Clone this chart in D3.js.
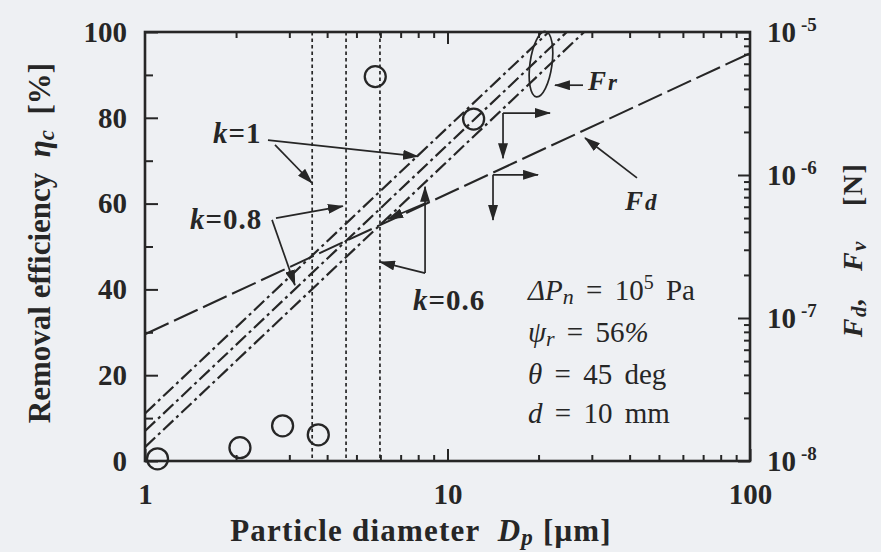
<!DOCTYPE html>
<html><head><meta charset="utf-8">
<script src="https://cdn.jsdelivr.net/npm/d3@7"></script>
<style>
html,body{margin:0;padding:0;background:#eef0f3;}
svg{display:block;}
text{font-family:"Liberation Serif","Times New Roman",serif;fill:#262626;white-space:pre;}
</style></head><body>
<svg id="chart" width="881" height="552"></svg>
<script>
// Measured removal efficiency (%) against particle diameter (µm)
const diameters  = [1.10, 2.06, 2.85, 3.74, 5.77, 12.2];
const efficiency = [0.5, 3.1, 8.2, 6.1, 89.6, 79.7];

// Critical diameters where Fd and Fr cross, one per k
const criticalK  = [1, 0.8, 0.6];
const criticalDp = [3.57, 4.62, 5.98];

// Drag force Fd (N), straight on the log-log scale
const dragDp = [1, 100];
const dragF  = [7.7e-8, 7.1e-6];

// Adhesion force Fr (N) for each k
const frK  = [1, 0.8, 0.6];
const frDp = [[1, 21.6], [1, 24.8], [1, 28.3]];
const frF  = [[2.15e-8, 1e-5], [1.62e-8, 1e-5], [1.25e-8, 1e-5]];

// Tick values and labels
const xTicks = [1, 10, 100];
const xMinor = [2,3,4,5,6,7,8,9,20,30,40,50,60,70,80,90];
const yTicks = [0, 20, 40, 60, 80, 100];
const yMinor = [10, 30, 50, 70, 90];
const fTicks = [1e-8, 1e-7, 1e-6, 1e-5];
const fTickExp = ["-8", "-7", "-6", "-5"];
const fMinor = [2,3,4,5,6,7,8,9].flatMap(m => [m*1e-8, m*1e-7, m*1e-6]);

const ink = "#262626";
const svg = d3.select("#chart");
const L = 145, R = 750, T = 32, B = 461;

const x = d3.scaleLog().domain([1, 100]).range([L, R]);
const y = d3.scaleLinear().domain([0, 100]).range([B, T]);
const f = d3.scaleLog().domain([1e-8, 1e-5]).range([B, T]);

const defs = svg.append("defs");
defs.append("marker").attr("id", "ah").attr("viewBox", "0 0 16 10")
  .attr("refX", 15).attr("refY", 5).attr("markerWidth", 16).attr("markerHeight", 10)
  .attr("markerUnits", "userSpaceOnUse").attr("orient", "auto")
  .append("path").attr("d", "M0,0 L16,5 L0,10 Z").attr("fill", ink);

function styleAxis(g) {
  g.select(".domain").remove();
  g.selectAll(".tick line").attr("stroke", ink).attr("stroke-width", 2);
  g.selectAll(".tick text").attr("fill", ink)
    .style("font-family", '"Liberation Serif", serif').style("font-size", "29px").style("font-weight", "bold");
}

// Bottom axis
svg.append("g").attr("transform", `translate(0,${B})`)
  .call(d3.axisBottom(x).tickValues(xMinor).tickSize(-6).tickFormat("")).call(styleAxis);
svg.append("g").attr("transform", `translate(0,${B})`)
  .call(d3.axisBottom(x).tickValues(xTicks).tickSize(-12).tickPadding(22).tickFormat(d3.format("d"))).call(styleAxis);
// Top axis
svg.append("g").attr("transform", `translate(0,${T})`)
  .call(d3.axisTop(x).tickValues(xMinor).tickSize(-6).tickFormat("")).call(styleAxis);
svg.append("g").attr("transform", `translate(0,${T})`)
  .call(d3.axisTop(x).tickValues([10]).tickSize(-12).tickFormat("")).call(styleAxis);
// Left axis
svg.append("g").attr("transform", `translate(${L},0)`)
  .call(d3.axisLeft(y).tickValues(yMinor).tickSize(-8).tickFormat("")).call(styleAxis);
svg.append("g").attr("transform", `translate(${L},0)`)
  .call(d3.axisLeft(y).tickValues(yTicks).tickSize(-13).tickPadding(18).tickFormat(d3.format("d"))).call(styleAxis);
// Right axis (force)
svg.append("g").attr("transform", `translate(${R},0)`)
  .call(d3.axisRight(f).tickValues(fMinor).tickSize(-6).tickFormat("")).call(styleAxis);
const fAxis = svg.append("g").attr("transform", `translate(${R},0)`)
  .call(d3.axisRight(f).tickValues(fTicks).tickSize(-12).tickPadding(17).tickFormat(() => "")).call(styleAxis);
fAxis.selectAll(".tick text").each(function(d, i) {
  const t = d3.select(this);
  t.append("tspan").text("10");
  t.append("tspan").attr("dx", 5).attr("dy", -11).style("font-size", "19px").text(fTickExp[i]);
});

// Frame
svg.append("rect").attr("x", L).attr("y", T).attr("width", R - L).attr("height", B - T)
  .attr("fill", "none").attr("stroke", ink).attr("stroke-width", 2.6);

// Critical diameters
svg.append("g").selectAll("line").data(criticalDp).join("line")
  .attr("x1", d => x(d)).attr("x2", d => x(d)).attr("y1", y(100)).attr("y2", y(0))
  .attr("stroke", ink).attr("stroke-width", 1.7).attr("stroke-dasharray", "3.5,3");

const line = d3.line().x(d => x(d[0])).y(d => f(d[1]));

// Drag force
svg.append("path").datum(d3.zip(dragDp, dragF)).attr("d", line)
  .attr("fill", "none").attr("stroke", ink).attr("stroke-width", 2.1).attr("stroke-dasharray", "26,6");

// Adhesion force lines
svg.append("g").selectAll("path").data(frK).join("path")
  .attr("d", (k, i) => line(d3.zip(frDp[i], frF[i])))
  .attr("fill", "none").attr("stroke", ink).attr("stroke-width", 2.2).attr("stroke-dasharray", "14,4,3,4");

// Measured points
svg.append("g").selectAll("circle").data(diameters).join("circle")
  .attr("cx", d => x(d)).attr("cy", (d, i) => y(efficiency[i])).attr("r", 10.5)
  .attr("fill", "none").attr("stroke", ink).attr("stroke-width", 2.3);

// Annotation arrows, in (Dp, efficiency) coordinates
const arrows = [
  [[2.55, 74.8], [7.99, 71.0]],
  [[2.69, 73.7], [3.565, 64.8]],
  [[2.71, 56.6], [4.51, 59.4]],
  [[2.63, 56.2], [3.13, 41.0]],
  [[8.43, 43.8], [8.43, 63.9]],
  [[8.43, 43.8], [5.98, 46.4]],
  [[8.43, 60.1], [6.36, 56.4]],
  [[28.05, 87.6], [22.66, 87.6]],
  [[42.3, 66.0], [28.49, 75.3]],
  [[15.26, 81.1], [21.82, 81.1]],
  [[15.26, 81.1], [15.26, 70.6]],
  [[14.14, 66.7], [19.92, 66.7]],
  [[14.14, 66.7], [14.14, 56.2]]
];
svg.append("g").selectAll("line").data(arrows).join("line")
  .attr("x1", d => x(d[0][0])).attr("y1", d => y(d[0][1]))
  .attr("x2", d => x(d[1][0])).attr("y2", d => y(d[1][1]))
  .attr("stroke", ink).attr("stroke-width", 1.7).attr("marker-end", "url(#ah)");

// Ellipse grouping the Fr lines
svg.append("ellipse").attr("transform", `translate(${x(20.37)},${y(92.5)}) rotate(8)`)
  .attr("rx", 11).attr("ry", 33).attr("fill", "none").attr("stroke", ink).attr("stroke-width", 1.7);

// Text helper: parts carry text, italic flag, relative size and baseline shift
function rich(g, parts, size, weight) {
  const t = g.append("text").style("font-size", size + "px").style("font-weight", weight || "bold");
  parts.forEach(p => {
    const s = t.append("tspan").text(p.t);
    if (p.i) s.style("font-style", "italic");
    if (p.s) s.style("font-size", Math.round(size * p.s) + "px");
    if (p.dy) s.attr("dy", p.dy);
    if (p.dx) s.attr("dx", p.dx);
  });
  return t;
}

const ann = svg.append("g");
rich(ann, [{t: "k", i: 1}, {t: "=1"}], 29).attr("x", x(1.679)).attr("y", y(74.1)).style("letter-spacing", "1px");
rich(ann, [{t: "k", i: 1}, {t: "=0.8"}], 29).attr("x", x(1.409)).attr("y", y(54.1)).style("letter-spacing", "1px");
rich(ann, [{t: "k", i: 1}, {t: "=0.6"}], 29).attr("x", x(7.69)).attr("y", y(35.2)).style("letter-spacing", "1px");
rich(ann, [{t: "F", i: 1}, {t: "r", i: 1, s: 0.85, dx: 2}], 27).attr("x", x(29.14)).attr("y", y(86.5));
rich(ann, [{t: "F", i: 1}, {t: "d", i: 1, s: 0.85, dx: 2}], 27).attr("x", x(38.6)).attr("y", y(58.5));

const params = ann.append("g").style("word-spacing", "5px");
rich(params, [{t: "ΔP", i: 1}, {t: "n", i: 1, s: 0.75, dy: 4}, {t: " = 10", dy: -4}, {t: "5", s: 0.7, dy: -11}, {t: " Pa", dy: 11}], 29, "normal")
  .attr("x", x(18.46)).attr("y", y(37.5));
rich(params, [{t: "ψ", i: 1}, {t: "r", i: 1, s: 0.75, dy: 4}, {t: " = 56", dy: -4}, {t: "%", i: 1}], 29, "normal")
  .attr("x", x(18.46)).attr("y", y(27.7));
rich(params, [{t: "θ", i: 1}, {t: " = 45 deg"}], 29, "normal").attr("x", x(18.46)).attr("y", y(17.9));
rich(params, [{t: "d", i: 1}, {t: " = 10 mm"}], 29, "normal").attr("x", x(18.46)).attr("y", y(8.9));

// Axis titles
rich(svg, [{t: "Particle diameter  "}, {t: "D", i: 1}, {t: "p", i: 1, s: 0.75, dy: 4}, {t: " [μm]", dy: -4}], 31)
  .attr("x", 421).attr("y", 541).attr("text-anchor", "middle").style("letter-spacing", "1.2px");
rich(svg, [{t: "Removal efficiency  "}, {t: "η", i: 1}, {t: "c", i: 1, s: 0.75, dy: 4}, {t: "  [%]", dy: -4}], 31)
  .attr("text-anchor", "middle").attr("transform", "translate(50,243) rotate(-90)");
rich(svg, [{t: "F", i: 1}, {t: "d", i: 1, s: 0.75, dy: 4}, {t: ",   F", i: 1, dy: -4}, {t: "v", i: 1, s: 0.75, dy: 4}, {t: "    [N]", dy: -4}], 28)
  .attr("text-anchor", "middle").attr("transform", "translate(862,250) rotate(-90)").style("letter-spacing", "1.5px");
</script>
</body></html>
